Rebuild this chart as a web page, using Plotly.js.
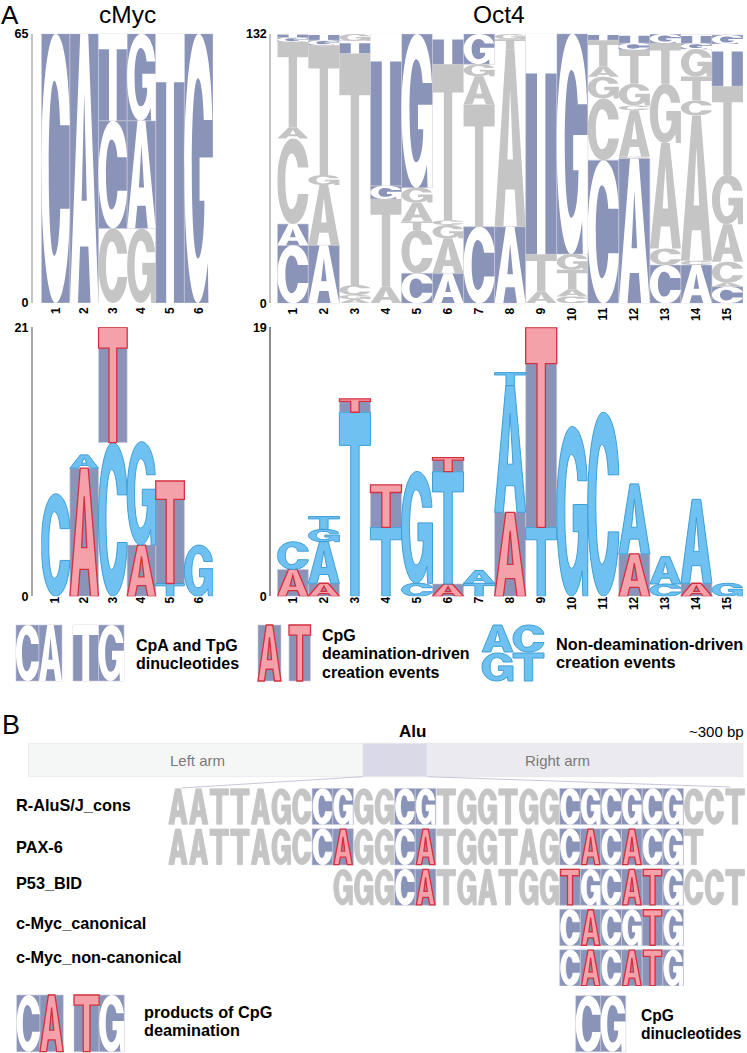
<!DOCTYPE html>
<html>
<head>
<meta charset="utf-8">
<script src="https://cdn.plot.ly/plotly-3.0.1.min.js"></script>
<style>body { margin: 0; background: #fff; }</style>
</head>
<body>
<div id="plot" style="width:747px;height:1053px"></div>
<script>
// Stacks read bottom to top. Classes: d = dinucleotide, n = neutral, r = deamination, b = non-deamination
const cmycTopLetters = ["C", "A", "CCT", "GAG", "T", "G"];
const cmycTopClasses = ["d", "d", "ndd", "ndd", "d", "d"];
const cmycTopValues = [[65], [65], [18, 26, 21], [18, 26, 21], [65], [65]];

const oct4TopLetters = ["CACATGT", "AAGTGT", "AGCTTG", "ATGT", "CCTAGG", "AAGCTT", "CTAGG", "AATG", "ATT", "CATGG", "CCGATT", "ACACGTCT", "CCAGTG", "ACACTGGT", "CACAGTTG"];
const oct4TopClasses = ["ddnnndd", "dnnndd", "nnnndn", "nndd", "dnnnnd", "dnnnnd", "dnnnd", "dnnn", "nnd", "nnnnd", "dnnnnd", "dnnnnndd", "dnnnnd", "dnnnnndd", "dnnnnndd"];
const oct4TopValues = [
  [28.4, 10.4, 41.9, 5.4, 41.9, 2.1, 1.8],
  [28.4, 29.5, 4.9, 63.6, 2.4, 3.1],
  [2.1, 2, 4.9, 113.3, 6.2, 3.4],
  [8.1, 43, 6.4, 74.3],
  [14.7, 21.2, 4.1, 9.3, 7.3, 75.3],
  [14.7, 17.1, 6.5, 2.4, 76.3, 14.8],
  [37.5, 59.8, 13.9, 5.9, 14.8],
  [37.5, 86.7, 5.1, 2.6],
  [5.7, 18.3, 107.9],
  [3.3, 3.6, 9.5, 7.7, 107.9],
  [70.1, 30.2, 10.6, 4.9, 13, 3.1],
  [70.9, 0.8, 22.8, 2.4, 10.6, 16.6, 3.3, 4.4],
  [18.7, 8.1, 51.7, 29, 19.9, 4.4],
  [18.7, 2.1, 71.2, 7.3, 11.7, 13.5, 2.8, 4.4],
  [8.1, 2, 10.3, 18.3, 24.1, 43.5, 20.7, 4.4],
];

const cmycLowLetters = ["C", "AA", "CT", "AG", "TT", "G"];
const cmycLowClasses = ["b", "rb", "br", "rb", "br", "b"];
const cmycLowValues = [[8], [10, 1.04], [12, 9], [4, 8.07], [1, 8], [4]];

const oct4LowLetters = ["AC", "AAGT", "TT", "TT", "CG", "ATT", "TA", "AAT", "TT", "G", "C", "AA", "CA", "AA", "G"];
const oct4LowClasses = ["rb", "rbbb", "br", "br", "bb", "rbr", "bb", "rbb", "br", "b", "b", "rb", "bb", "rb", "b"];
const oct4LowValues = [[1.9, 1.95], [0.92, 2.94, 0.87, 0.9], [13, 0.94], [4.87, 3], [0.92, 7.9], [0.87, 7.93, 0.99], [0.92, 0.9], [5.93, 8.95, 0.92], [4.87, 14.1], [12], [13], [3, 4.94], [0.87, 1.93], [0.92, 5.93], [0.92]];

// Alu sequence rows
const seqNames = ["R-AluS/J_cons", "PAX-6", "P53_BID", "c-Myc_canonical", "c-Myc_non-canonical"];
const seqLetters = ["AATTAGCCGGGCGTGGTGGCGCGCGCCT", "AATTAGCCAGGCATGGTAGCACACGT", "GGGCATGATGGTGCATGCCT", "CACGTG", "CACATG"];
const seqClasses = ["nnnnnnnddnnddnnnnnnddddddnnn", "nnnnnnndrnndrnnnnnndrdrddn", "nnndrnnnnnnrddrrdnnn", "drddrd", "drdrrd"];
const seqStarts = [0, 0, 8, 19, 19];

const armNames = ["Left arm", "Alu", "Right arm"];
const armLengths = [334.4, 64, 316];

const W = 747, H = 1053;
const BG = "#8a93b8";
const styles = {
  d: { fill: "#ffffff", line: "#ffffff", width: 0, bg: BG },
  n: { fill: "#c5c5c5", line: "#c5c5c5", width: 0, bg: null },
  r: { fill: "#f4a1aa", line: "#d5303f", width: 1.3, bg: BG },
  b: { fill: "#6fc1f1", line: "#3c9ed6", width: 1, bg: null },
};

// Letter outlines in a unit box, y upwards
const glyphs = {
  T: "M0,1 L1,1 L1,0.82 L0.635,0.82 L0.635,0 L0.365,0 L0.365,0.82 L0,0.82 Z",
  A: "M0,0 L0.36,1 L0.64,1 L1,0 L0.72,0 L0.645,0.21 L0.355,0.21 L0.28,0 Z M0.41,0.38 L0.5,0.78 L0.59,0.38 Z",
  C: "M1,0.66 C0.97,0.87 0.76,1 0.5,1 C0.22,1 0,0.78 0,0.5 C0,0.22 0.22,0 0.5,0 C0.76,0 0.97,0.14 1,0.35 L0.66,0.35 C0.64,0.24 0.55,0.175 0.45,0.175 C0.34,0.175 0.26,0.31 0.26,0.5 C0.26,0.69 0.34,0.825 0.45,0.825 C0.55,0.825 0.64,0.76 0.66,0.66 Z",
  G: "M0.98,0.68 C0.95,0.87 0.75,1 0.5,1 C0.22,1 0,0.78 0,0.5 C0,0.22 0.2,0 0.47,0 C0.62,0 0.74,0.06 0.82,0.15 L0.84,0 L1,0 L1,0.54 L0.53,0.54 L0.53,0.38 L0.7,0.38 C0.7,0.25 0.6,0.165 0.47,0.165 C0.34,0.165 0.26,0.31 0.26,0.5 C0.26,0.69 0.34,0.835 0.47,0.835 C0.58,0.835 0.66,0.77 0.68,0.68 Z",
};

const shapes = [];
const traces = [];
const px = (x) => x / W;
const py = (y) => 1 - y / H;

function addLetter(letter, cls, x0, x1, y0, y1, xref, yref, extraWidth) {
  const path = glyphs[letter].replace(/(-?[\d.]+),(-?[\d.]+)/g, (m, u, v) =>
    (x0 + u * (x1 - x0)).toFixed(3) + "," + (y0 + v * (y1 - y0)).toFixed(3));
  const s = styles[cls];
  shapes.push({
    type: "path", path: path, xref: xref, yref: yref, fillrule: "evenodd", layer: "above",
    fillcolor: s.fill, line: { color: s.line, width: s.width || extraWidth || 0 },
  });
}

function addBlocks(xs, widths, heights, bases, xaxis, yaxis) {
  traces.push({
    type: "bar", x: xs, y: heights, base: bases, width: widths, xaxis: xaxis, yaxis: yaxis,
    marker: { color: BG, line: { color: "#c9cbd8", width: 0.6 } },
    hoverinfo: "skip", showlegend: false, cliponaxis: false,
  });
}

// One logo panel: background blocks go in a bar trace, letters on top as axis referenced paths
function addLogo(letters, classes, values, axisId) {
  const xs = [], hs = [], bs = [];
  const xref = "x" + axisId, yref = "y" + axisId;
  letters.forEach((col, i) => {
    let base = 0;
    values[i].forEach((v, j) => {
      const cls = classes[i][j];
      if (styles[cls].bg) { xs.push(i + 1); hs.push(v); bs.push(base); }
      addLetter(col[j], cls, i + 0.5, i + 1.5, base, base + v, xref, yref);
      base += v;
    });
  });
  addBlocks(xs, 1, hs, bs, xref, yref);
}

addLogo(cmycTopLetters, cmycTopClasses, cmycTopValues, 1);
addLogo(oct4TopLetters, oct4TopClasses, oct4TopValues, 2);
addLogo(cmycLowLetters, cmycLowClasses, cmycLowValues, 3);
addLogo(oct4LowLetters, oct4LowClasses, oct4LowValues, 4);

// Sequence rows on their own axes: x is the alignment column, y is the row
(function () {
  const xs = [], ys = [];
  const rowHeight = 0.9;
  seqLetters.forEach((row, r) => {
    [...row].forEach((ch, i) => {
      const k = seqStarts[r] + i, cls = seqClasses[r][i];
      if (styles[cls].bg) { xs.push(k + 0.5); ys.push(r); }
      addLetter(ch, cls, k + 0.05, k + 0.95, r + rowHeight - 0.01, r + 0.01, "x5", "y5", 0.9);
    });
  });
  addBlocks(xs, 1, xs.map(() => rowHeight), ys, "x5", "y5");
})();

// Legend keys and the Alu bar use a page sized axis pair
function addKey(letters, classes, x0, x1, y0, y1) {
  const n = letters.length, w = (x1 - x0) / n;
  const xs = [], bases = [];
  [...letters].forEach((ch, i) => {
    if (styles[classes[i]].bg) { xs.push(x0 + w * (i + 0.5)); bases.push(y0); }
    addLetter(ch, classes[i], x0 + w * i, x0 + w * (i + 1), y1, y0, "x6", "y6");
  });
  if (xs.length) addBlocks(xs, w, xs.map(() => y1 - y0), bases, "x6", "y6");
}
addKey("CA", "dd", 16, 62, 625, 681);
addKey("TG", "dd", 73, 124, 625, 681);
addKey("A", "r", 258, 281, 625, 681);
addKey("T", "r", 289, 310.5, 625, 681);
addKey("AC", "bb", 482, 544, 625, 652);
addKey("GT", "bb", 482, 544, 653, 681);
addKey("CA", "dr", 16.7, 63.3, 995, 1051.7);
addKey("TG", "rd", 74, 124.3, 995, 1051.7);
addKey("CG", "dd", 575.7, 625.7, 995.7, 1051.7);

let armStart = 28.6;
const armBases = armLengths.map((v) => { const b = armStart; armStart += v; return b; });
traces.push({
  type: "bar", orientation: "h", y: armLengths.map(() => 760), x: armLengths, base: armBases, width: 33.4,
  xaxis: "x6", yaxis: "y6", hoverinfo: "skip", showlegend: false,
  marker: { color: ["#f4f7f5", "#d9d9e8", "#eaeaf0"], line: { color: "#e6e7ea", width: 0.8 } },
});
shapes.push(
  { type: "line", x0: 363, y0: 776.7, x1: 181.7, y1: 788, xref: "x6", yref: "y6", line: { color: "#c6c6dc", width: 1 } },
  { type: "line", x0: 427.5, y0: 776.7, x1: 730, y1: 787, xref: "x6", yref: "y6", line: { color: "#c6c6dc", width: 1 } }
);

const FONT = "Liberation Sans, Arial, sans-serif";
function note(text, x, y, size, opts) {
  return Object.assign({
    text: text, x: px(x), y: py(y), xref: "paper", yref: "paper", showarrow: false,
    xanchor: "left", yanchor: "middle", borderpad: 0, borderwidth: 0,
    font: { family: FONT, size: size, color: "#000" },
  }, opts || {});
}
const bold = (size, color) => ({ family: FONT, size: size, color: color || "#000", weight: 700 });
const center = { xanchor: "center" };
const grayFont = { family: FONT, size: 15, color: "#7a7a7a" };
const seqLabelY = [805, 847, 883, 922.7, 956.7];

const annotations = [
  note("A", 1, 0, 26, { yanchor: "top" }),
  note("B", 2, 725, 27),
  note("cMyc", 127, 15, 24.5, center),
  note("Oct4", 499, 15, 24.5, center),
  note("CpA and TpG", 136, 645, 16, { font: bold(16) }),
  note("dinucleotides", 136, 663, 16, { font: bold(16) }),
  note("CpG", 322, 635, 16, { font: bold(16) }),
  note("deamination-driven", 322, 653.7, 16, { font: bold(16) }),
  note("creation events", 322, 672, 16, { font: bold(16) }),
  note("Non-deamination-driven", 556, 644, 16.3, { font: bold(16.3) }),
  note("creation events", 556, 662, 16.3, { font: bold(16.3) }),
  note(armNames[1], 412, 731.7, 17, { xanchor: "center", font: bold(17) }),
  note("~300 bp", 744, 731, 15, { xanchor: "right" }),
  note(armNames[0], 197.6, 760.7, 15, { xanchor: "center", font: grayFont }),
  note(armNames[2], 557, 760.7, 15, { xanchor: "center", font: grayFont }),
  note("products of CpG", 144.3, 1012, 16.3, { font: bold(16.3) }),
  note("deamination", 144.3, 1030, 16.3, { font: bold(16.3) }),
  note("CpG", 640.7, 1015, 15.6, { font: bold(15.6) }),
  note("dinucleotides", 640.7, 1033.3, 15.6, { font: bold(15.6) }),
].concat(seqNames.map((name, i) => note(name, 15.7, seqLabelY[i], 16.3, { font: bold(16.3) })));

function logoAxes(n, left, right, top, bottom, ymax, linePos, lineColor, standoff) {
  const suffix = n === 1 ? "" : n;
  const positions = Array.from({ length: n === 1 || n === 3 ? 6 : 15 }, (_, i) => i + 1);
  const out = {};
  out["xaxis" + suffix] = {
    domain: [px(left), px(right)], range: [0.5, positions.length + 0.5], anchor: "y" + suffix,
    tickmode: "array", tickvals: positions, ticktext: positions.map(String), tickangle: -90,
    ticks: "", ticklabelstandoff: standoff, showgrid: false, zeroline: false, showline: false,
    tickfont: bold(12),
  };
  out["yaxis" + suffix] = {
    domain: [py(bottom), py(top)], range: [0, ymax], anchor: "free", position: px(linePos),
    tickmode: "array", tickvals: [0, ymax], ticktext: ["0", String(ymax)], ticks: "inside", ticklen: 7,
    tickcolor: lineColor, tickwidth: 1.2, showline: true, linecolor: lineColor, linewidth: 1.5,
    showgrid: false, zeroline: false, tickfont: bold(12.5),
  };
  return out;
}

const hidden = { visible: false, showgrid: false, zeroline: false, fixedrange: true };
const layout = Object.assign({
  width: W, height: H, margin: { l: 0, r: 0, t: 0, b: 0 }, showlegend: false,
  paper_bgcolor: "#fff", plot_bgcolor: "rgba(0,0,0,0)", barmode: "overlay", bargap: 0,
  shapes: shapes, annotations: annotations,
  xaxis5: Object.assign({ domain: [px(167.7), px(746)], range: [0, 28.03], anchor: "y5" }, hidden),
  yaxis5: Object.assign({ domain: [py(986), py(788.3)], range: [4.9, 0], anchor: "x5" }, hidden),
  xaxis6: Object.assign({ domain: [0, 1], range: [0, W], anchor: "y6" }, hidden),
  yaxis6: Object.assign({ domain: [0, 1], range: [H, 0], anchor: "x6" }, hidden),
},
  logoAxes(1, 41.3, 213, 33.7, 303, 65, 31, "#c4c4c4", 1),
  logoAxes(2, 277.3, 743, 33.7, 303.3, 132, 269.3, "#c4c4c4", 1),
  logoAxes(3, 41.3, 213, 327.3, 596.3, 21, 31, "#a8a8a8", -3),
  logoAxes(4, 277.3, 743, 327.3, 596.3, 19, 269.3, "#8c8c8c", -3)
);

Plotly.newPlot("plot", traces, layout, { displayModeBar: false, staticPlot: true });
</script>
</body>
</html>
